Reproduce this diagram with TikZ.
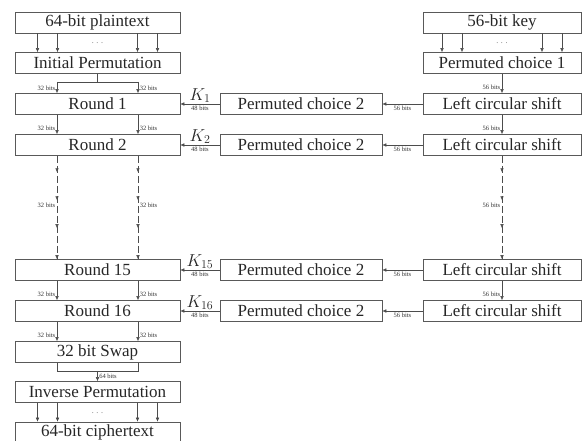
\documentclass[tikz,border=0pt]{standalone}
\usepackage{fontspec}
\setmainfont{Liberation Serif}
\usetikzlibrary{arrows.meta,decorations.markings}
\begin{document}
\begin{tikzpicture}[x=1pt,y=-1pt,
 box/.style={draw=black!65, line width=0.6pt, minimum height=21pt, inner sep=0pt, font=\fontsize{17}{17}\selectfont, text=black!85},
 lbox/.style={box, minimum width=165pt},
 rbox/.style={box, minimum width=158pt},
 mbox/.style={box, minimum width=162pt},
 tip/.style={-{Latex[length=4pt,width=3.5pt]}},
 arr/.style={draw=black!70, line width=0.5pt, tip},
 ln/.style={draw=black!70, line width=0.5pt},
 dsh/.style={ln, dash pattern=on 7pt off 3pt, postaction={decorate},
   decoration={markings,
     mark=at position 0.16 with {\arrow[solid]{Latex[length=4pt,width=3.5pt]}},
     mark=at position 0.43 with {\arrow[solid]{Latex[length=4pt,width=3.5pt]}},
     mark=at position 0.70 with {\arrow[solid]{Latex[length=4pt,width=3.5pt]}},
     mark=at position 1 with {\arrow[solid]{Latex[length=4pt,width=3.5pt]}}}},
 bits/.style={font=\fontsize{6.5}{6.5}\selectfont, text=black!80, inner sep=1.5pt},
 klab/.style={font=\fontsize{18}{18}\selectfont, text=black!85, inner sep=1pt},
 dots/.style={font=\fontsize{8}{8}\selectfont, text=black!60, inner sep=0pt}]
\useasboundingbox (0,0) rectangle (582,441);
\begin{scope}
\clip (0,0) rectangle (582,441);
% left column
\node[lbox] (pt)  at (97.5,22.5) {64-bit plaintext};
\node[lbox] (ip)  at (97.5,63)   {Initial Permutation};
\node[lbox] (r1)  at (97.5,104)  {Round 1};
\node[lbox] (r2)  at (97.5,145)  {Round 2};
\node[lbox] (r15) at (97.5,270)  {Round 15};
\node[lbox] (r16) at (97.5,311)  {Round 16};
\node[lbox] (sw)  at (97.5,352)  {32 bit Swap};
\node[lbox] (inv) at (97.5,392)  {Inverse Permutation};
\node[lbox] (ct)  at (97.5,432.5){64-bit ciphertext};
% middle column
\node[mbox] (p1)  at (301,104) {Permuted choice 2};
\node[mbox] (p2)  at (301,145) {Permuted choice 2};
\node[mbox] (p15) at (301,270) {Permuted choice 2};
\node[mbox] (p16) at (301,311) {Permuted choice 2};
% right column
\node[rbox] (key) at (502,22.5) {56-bit key};
\node[rbox] (pc1) at (502,63)   {Permuted choice 1};
\node[rbox] (s1)  at (502,104)  {Left circular shift};
\node[rbox] (s2)  at (502,145)  {Left circular shift};
\node[rbox] (s15) at (502,270)  {Left circular shift};
\node[rbox] (s16) at (502,311)  {Left circular shift};

% plaintext -> IP, key -> PC1, inverse -> ciphertext
\foreach \dx in {-60,-40,40,60} {
  \draw[arr] ([xshift=\dx pt]pt.south) -- ([xshift=\dx pt]ip.north);
  \draw[arr] ([xshift=\dx pt]key.south) -- ([xshift=\dx pt]pc1.north);
  \draw[arr] ([xshift=\dx pt]inv.south) -- ([xshift=\dx pt]ct.north);
}
\node[dots] at ([yshift=-10pt]pt.south) {.\,\,.\,\,.};
\node[dots] at ([yshift=-10pt]key.south) {.\,\,.\,\,.};
\node[dots] at ([yshift=-10pt]inv.south) {.\,\,.\,\,.};

% IP -> Round 1
\coordinate (ij) at ([yshift=-8pt]ip.south);
\draw[ln] (ip.south) -- (ij);
\draw[ln] ([xshift=-40.5pt]ij) -- ([xshift=40.5pt]ij);
\draw[arr] ([xshift=-40.5pt]ij) -- ([xshift=-40.5pt]r1.north) node[pos=0.55,left,bits]{32 bits};
\draw[arr] ([xshift=40.5pt]ij) -- ([xshift=40.5pt]r1.north) node[pos=0.55,right,bits]{32 bits};

% rounds
\foreach \a/\b in {r1/r2,r15/r16,r16/sw} {
  \draw[arr] ([xshift=-40.5pt]\a.south) -- ([xshift=-40.5pt]\b.north) node[pos=0.7,left,bits]{32 bits};
  \draw[arr] ([xshift=40.5pt]\a.south) -- ([xshift=40.5pt]\b.north) node[pos=0.7,right,bits]{32 bits};
}
\draw[dsh] ([xshift=-40.5pt]r2.south) -- ([xshift=-40.5pt]r15.north) node[pos=0.48,left,bits]{32 bits};
\draw[dsh] ([xshift=40.5pt]r2.south) -- ([xshift=40.5pt]r15.north) node[pos=0.48,right,bits]{32 bits};

% swap -> inverse
\coordinate (sj) at ([yshift=-8pt]sw.south);
\draw[ln] ([xshift=-40.5pt]sw.south) -- ([xshift=-40.5pt]sj) -- ([xshift=40.5pt]sj) -- ([xshift=40.5pt]sw.south);
\draw[arr] (sj) -- (inv.north) node[pos=0.5,right,bits]{64 bits};

% key schedule
\foreach \a/\b in {pc1/s1,s1/s2,s15/s16} {
  \draw[arr] (\a.south) -- (\b.north) node[pos=0.7,left,bits]{56 bits};
}
\draw[dsh] (s2.south) -- (s15.north) node[pos=0.48,left,bits]{56 bits};

% horizontal connectors
\foreach \s/\p/\r/\k in {s1/p1/r1/1, s2/p2/r2/2, s15/p15/r15/15, s16/p16/r16/16} {
  \draw[arr] (\s.west) -- (\p.east) node[midway,below,bits]{56 bits};
  \draw[arr] (\p.west) -- (\r.east) node[midway,below,bits]{48 bits}
     node[midway,above,klab]{$K_{\k}$};
}
\end{scope}
\end{tikzpicture}
\end{document}
